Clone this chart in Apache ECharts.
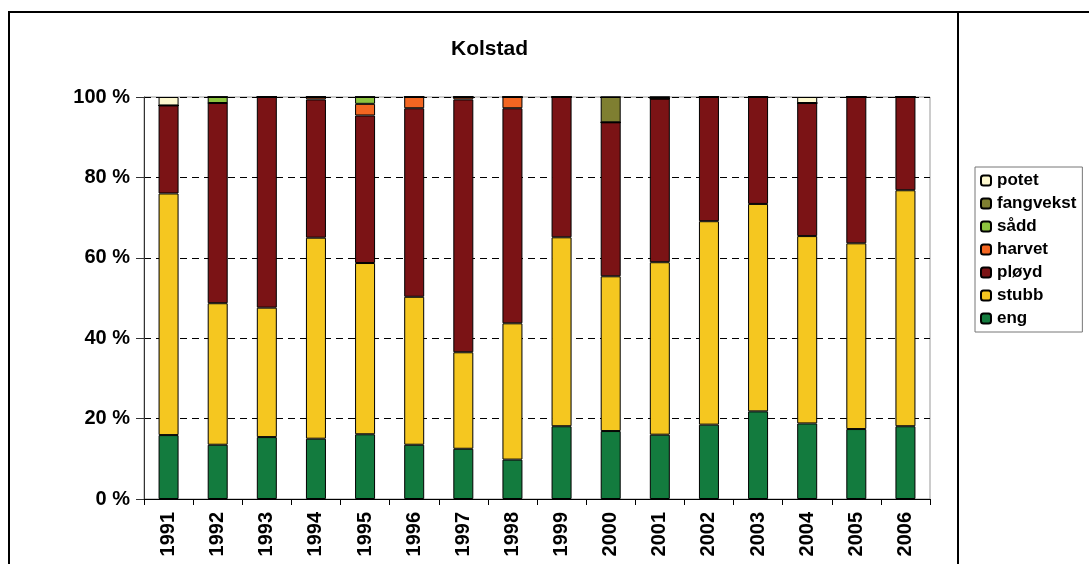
<!DOCTYPE html>
<html>
<head>
<meta charset="utf-8">
<script src="https://cdn.jsdelivr.net/npm/echarts@6/dist/echarts.min.js"></script>
<style>
  html, body { margin: 0; padding: 0; background: #fff; }
  #chart { width: 1089px; height: 564px; }
</style>
</head>
<body>
<div id="chart"></div>
<script>
// data (percent of area per year)
const years = ['1991', '1992', '1993', '1994', '1995', '1996', '1997', '1998',
  '1999', '2000', '2001', '2002', '2003', '2004', '2005', '2006']
const eng = [15.9, 13.5, 15.4, 15.0, 16.1, 13.5, 12.5, 9.8, 18.1, 16.9, 16.0, 18.5, 21.8, 18.8, 17.4, 18.1]
const stubb = [60.1, 35.2, 32.2, 50.0, 42.6, 36.8, 24.0, 33.9, 47.0, 38.5, 42.9, 50.6, 51.6, 46.6, 46.2, 58.7]
const ployd = [21.9, 49.8, 52.4, 34.4, 36.7, 46.9, 62.9, 53.5, 34.9, 38.3, 40.7, 30.9, 26.6, 33.1, 36.4, 23.2]
const harvet = [0, 0, 0, 0.6, 2.9, 2.8, 0.6, 2.8, 0, 0, 0, 0, 0, 0, 0, 0]
const sadd = [0, 1.5, 0, 0, 1.7, 0, 0, 0, 0, 0, 0, 0, 0, 0, 0, 0]
const fangvekst = [0, 0, 0, 0, 0, 0, 0, 0, 0, 6.3, 0.4, 0, 0, 0, 0, 0]
const potet = [2.1, 0, 0, 0, 0, 0, 0, 0, 0, 0, 0, 0, 0, 1.5, 0, 0]
const yTicks = [0, 20, 40, 60, 80, 100]

const font = 'Liberation Sans, Arial, sans-serif'

const chart = echarts.init(document.getElementById('chart'))

function bar(name, data, color) {
  return {
    name: name,
    type: 'bar',
    stack: 'total',
    barWidth: 20,
    data: data,
    itemStyle: { color: color, borderColor: '#000', borderWidth: 1 }
  }
}

chart.setOption({
  animation: false,
  textStyle: { fontFamily: font },
  title: {
    text: 'Kolstad',
    left: 446,
    top: 34,
    textStyle: { fontSize: 21, fontWeight: 'bold', color: '#000', fontFamily: font }
  },
  grid: {
    left: 144,
    right: 159,
    top: 97,
    bottom: 65,
    show: true,
    borderColor: '#999',
    borderWidth: 1
  },
  legend: {
    orient: 'vertical',
    left: 975,
    top: 167,
    padding: [5, 6, 5, 5],
    itemWidth: 10,
    itemHeight: 10,
    itemGap: 6,
    borderColor: '#777',
    borderWidth: 1,
    data: ['potet', 'fangvekst', 'sådd', 'harvet', 'pløyd', 'stubb', 'eng'],
    textStyle: { fontSize: 17, fontWeight: 'bold', color: '#000', fontFamily: font, padding: [0, 0, 0, 1] }
  },
  xAxis: {
    type: 'category',
    data: years,
    axisLine: { lineStyle: { color: '#000', width: 1 } },
    axisTick: { show: true, length: 6, lineStyle: { color: '#000' } },
    axisLabel: {
      rotate: 90,
      margin: 13,
      fontSize: 20,
      fontWeight: 'bold',
      color: '#000',
      fontFamily: font
    }
  },
  yAxis: {
    type: 'value',
    min: 0,
    max: 100,
    interval: 20,
    axisLine: { show: true, lineStyle: { color: '#333', width: 1 } },
    axisTick: { show: true, length: 8, lineStyle: { color: '#333' } },
    axisLabel: {
      margin: 14,
      fontSize: 20,
      fontWeight: 'bold',
      color: '#000',
      fontFamily: font,
      formatter: v => (yTicks.includes(v) ? v + ' %' : '')
    },
    splitLine: { lineStyle: { color: '#000', type: [7, 5], width: 1 } }
  },
  graphic: [
    { type: 'line', shape: { x1: 8, y1: 12, x2: 1089, y2: 12 }, style: { stroke: '#000', lineWidth: 2 } },
    { type: 'line', shape: { x1: 9, y1: 12, x2: 9, y2: 564 }, style: { stroke: '#000', lineWidth: 2 } },
    { type: 'line', shape: { x1: 958, y1: 12, x2: 958, y2: 564 }, style: { stroke: '#000', lineWidth: 2 } }
  ],
  series: [
    bar('eng', eng, '#137b3e'),
    bar('stubb', stubb, '#f5c720'),
    bar('pløyd', ployd, '#7b1315'),
    bar('harvet', harvet, '#f36621'),
    bar('sådd', sadd, '#8dc43f'),
    bar('fangvekst', fangvekst, '#7f7f31'),
    bar('potet', potet, '#fdf8cf')
  ]
})
</script>
</body>
</html>
